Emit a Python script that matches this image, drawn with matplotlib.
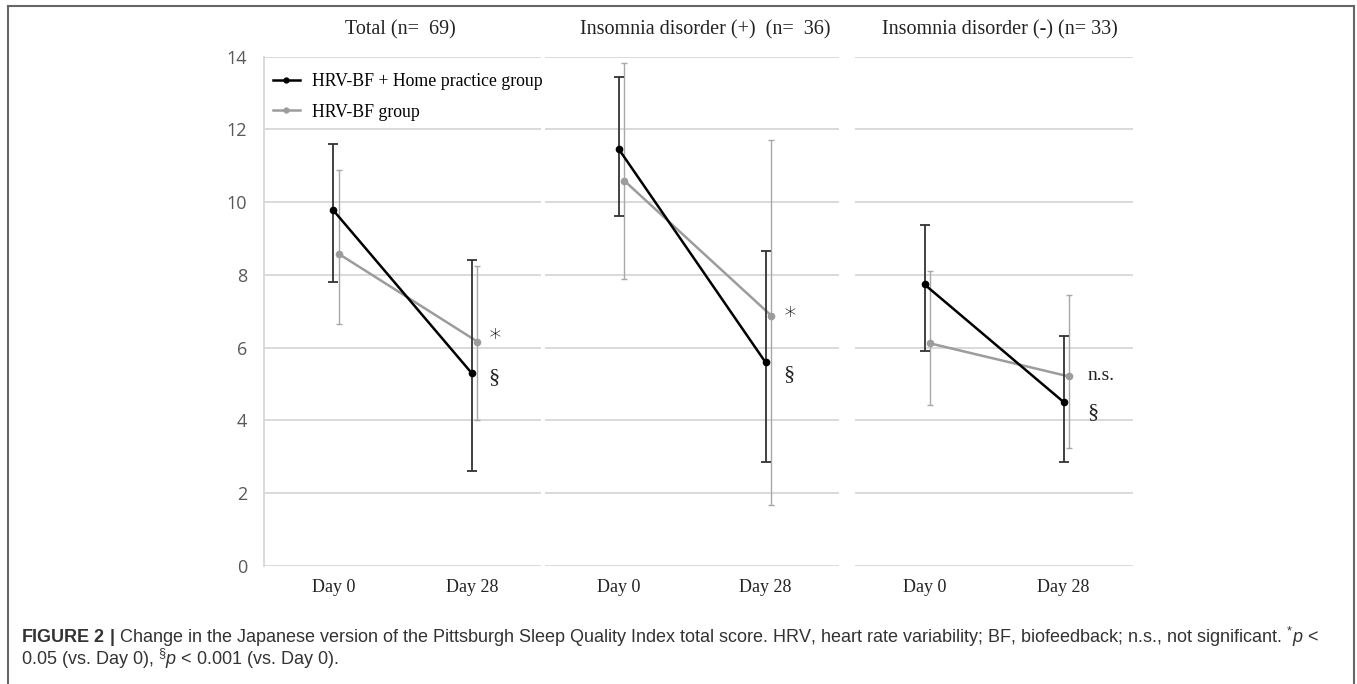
"""Change in PSQI-J total score, HRV-BF groups (Figure 2)."""

import matplotlib

matplotlib.use("Agg")
import matplotlib.pyplot as plt
from matplotlib.lines import Line2D

plt.rcParams["mathtext.fontset"] = "custom"
plt.rcParams["mathtext.rm"] = "Liberation Sans"
plt.rcParams["mathtext.it"] = "Liberation Sans:italic"
plt.rcParams["mathtext.bf"] = "Liberation Sans:bold"

days = ["Day 0", "Day 28"]
panel_titles = [
    "Total (n=  69)",
    "Insomnia disorder (+)  (n=  36)",
    "Insomnia disorder (-) (n= 33)",
]
series_labels = ["HRV-BF + Home practice group", "HRV-BF group"]

# HRV-BF + home practice group: mean and error bar ends per panel
home_mean = [[9.78, 5.30], [11.47, 5.60], [7.74, 4.51]]
home_low = [[7.82, 2.62], [9.63, 2.86], [5.92, 2.86]]
home_high = [[11.61, 8.42], [13.44, 8.65], [9.37, 6.32]]

# HRV-BF group
bf_mean = [[8.58, 6.17], [10.59, 6.88], [6.12, 5.21]]
bf_low = [[6.64, 4.02], [7.88, 1.67], [4.42, 3.23]]
bf_high = [[10.88, 8.24], [13.84, 11.71], [8.12, 7.45]]

# significance marks at Day 28: (text, y value)
marks = [
    [("\u2217", 6.40), ("§", 5.18)],
    [("\u2217", 7.00), ("§", 5.27)],
    [("n.s.", 5.24), ("§", 4.22)],
]
y_ticks = [0, 2, 4, 6, 8, 10, 12, 14]

W, H = 1357, 684
fig = plt.figure(figsize=(W / 100, H / 100), dpi=100)

# axes boxes in pixels: (left, right)
boxes = [(264, 541), (545, 839), (855, 1133)]
y_top_px, y_bot_px = 56.7, 566
title_x = [400, 705, 1000]
mark_x = [[1.17, 1.16], [1.17, 1.16], [1.27, 1.21]]

SERIF = "Liberation Serif"
GRID = "#d9d9d9"
GRAY = "#9c9c9c"

for i, (left, right) in enumerate(boxes):
    ax = fig.add_axes(
        [left / W, 1 - y_bot_px / H, (right - left) / W, (y_bot_px - y_top_px) / H]
    )
    xs = [0, 1]
    xg = [0.04, 1.04]

    ax.errorbar(
        xg,
        bf_mean[i],
        yerr=[
            [m - lo for m, lo in zip(bf_mean[i], bf_low[i])],
            [hi - m for m, hi in zip(bf_mean[i], bf_high[i])],
        ],
        fmt="none",
        ecolor="#a8a8a8",
        elinewidth=1.0,
        capsize=2.5,
        capthick=1.0,
        zorder=2,
    )
    ax.plot(xg, bf_mean[i], color=GRAY, lw=1.8, marker="o", ms=4.5, zorder=3)

    ax.errorbar(
        xs,
        home_mean[i],
        yerr=[
            [m - lo for m, lo in zip(home_mean[i], home_low[i])],
            [hi - m for m, hi in zip(home_mean[i], home_high[i])],
        ],
        fmt="none",
        ecolor="#333333",
        elinewidth=1.3,
        capsize=3.5,
        capthick=1.3,
        zorder=4,
    )
    ax.plot(xs, home_mean[i], color="black", lw=1.8, marker="o", ms=4.5, zorder=5)

    for (txt, yv), xm in zip(marks[i], mark_x[i]):
        if txt == "n.s.":
            ax.text(xm, yv, txt, family=SERIF, fontsize=14,
                    ha="center", va="center", color="#222222")
        elif txt == "§":
            ax.text(xm, yv, txt, family=SERIF, fontsize=16,
                    ha="center", va="center", color="#222222")
        else:
            ax.text(xm, yv, txt, family="DejaVu Sans", fontsize=17,
                    fontweight="light", ha="center", va="center", color="black")

    ax.set_xlim(-0.5, 1.5)
    ax.set_ylim(0, 14)
    ax.set_yticks(y_ticks)
    ax.yaxis.grid(True, color=GRID, lw=1.4)
    ax.set_axisbelow(True)
    ax.set_xticks(xs)
    ax.set_xticklabels(days, family=SERIF, fontsize=13, color="#222222")
    ax.tick_params(axis="x", length=0, pad=9)
    ax.tick_params(axis="y", length=0, pad=12, labelsize=13, labelcolor="#595959")
    for side in ("top", "right", "bottom", "left"):
        ax.spines[side].set_visible(False)
    if i == 0:
        ax.spines["left"].set_visible(True)
        ax.spines["left"].set_color(GRID)
        ax.spines["left"].set_linewidth(1.4)
        for lbl in ax.get_yticklabels():
            lbl.set_family("Open Sans")
        handles = [
            Line2D([], [], color="black", lw=1.8, marker="o", ms=3.5),
            Line2D([], [], color=GRAY, lw=1.8, marker="o", ms=3.5),
        ]
        ax.legend(
            handles,
            series_labels,
            loc="upper left",
            bbox_to_anchor=(0.0, 0.985),
            frameon=False,
            prop={"family": SERIF, "size": 12.8},
            handlelength=1.5,
            handletextpad=0.7,
            labelspacing=0.75,
            borderaxespad=0.2,
            borderpad=0.3,
        )
    else:
        ax.set_yticklabels([])

    fig.text(title_x[i] / W, 1 - 30 / H, panel_titles[i], family=SERIF,
             fontsize=14.5, ha="center", va="center", color="#222222")

# caption
cap1 = (
    r"$\mathbf{FIGURE\ 2\ |}$ Change in the Japanese version of the Pittsburgh Sleep "
    r"Quality Index total score. HRV, heart rate variability; BF, biofeedback; "
    r"n.s., not significant. $^{*}\mathit{p}$ <"
)
cap2 = r"0.05 (vs. Day 0), $^{\S}\mathit{p}$ < 0.001 (vs. Day 0)."
fig.text(21 / W, 1 - 637 / H, cap1, family="Liberation Sans", fontsize=13,
         ha="left", va="center", color="#333333")
fig.text(21 / W, 1 - 659 / H, cap2, family="Liberation Sans", fontsize=13,
         ha="left", va="center", color="#333333")

# frame around the figure (left, top, right)
frame_color = "#666666"
fig.add_artist(Line2D([8 / W, 8 / W], [0, 1 - 5.7 / H], color=frame_color, lw=1.5))
fig.add_artist(Line2D([8 / W, 1354 / W], [1 - 5.7 / H, 1 - 5.7 / H], color=frame_color, lw=1.5))
fig.add_artist(Line2D([1354 / W, 1354 / W], [0, 1 - 5.7 / H], color=frame_color, lw=1.5))

fig.savefig("out.png", dpi=100)
plt.close(fig)
